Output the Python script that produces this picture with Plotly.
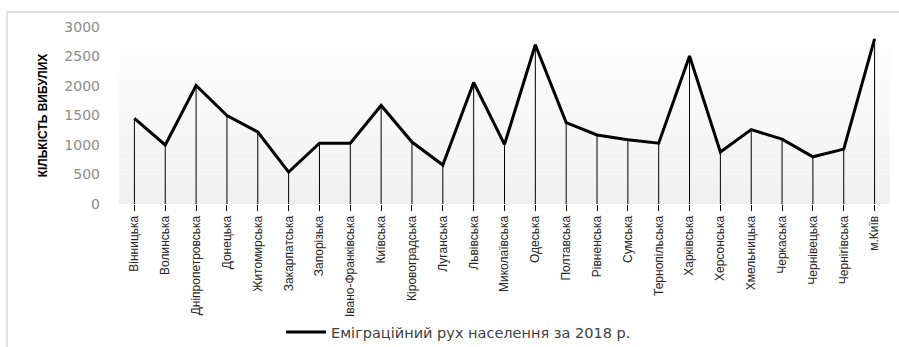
import plotly.graph_objects as go

# Регіони України
regions = [
    "Вінницька", "Волинська", "Дніпропетровська", "Донецька", "Житомирська",
    "Закарпатська", "Запорізька", "Івано-Франківська", "Київська", "Кіровоградська",
    "Луганська", "Львівська", "Миколаївська", "Одеська", "Полтавська",
    "Рівненська", "Сумська", "Тернопільська", "Харківська", "Херсонська",
    "Хмельницька", "Черкаська", "Чернівецька", "Чернігівська", "м.Київ",
]

# Кількість вибулих, 2018 р.
emigrants = [
    1450, 1000, 2010, 1500, 1220,
    540, 1030, 1030, 1670, 1050,
    660, 2060, 1010, 2700, 1380,
    1170, 1090, 1030, 2510, 880,
    1260, 1100, 800, 930, 2800,
]

y_ticks = [0, 500, 1000, 1500, 2000, 2500, 3000]
series_name = "Еміграційний рух населення за 2018 р."

W, H = 899, 347
L, R, T, B = 119, 9, 27, 143
plot_w = W - L - R
plot_h = H - T - B

fig = go.Figure()

fig.add_trace(go.Scatter(
    x=regions,
    y=emigrants,
    mode="lines",
    name=series_name,
    line=dict(color="black", width=3),
    error_y=dict(
        type="data", symmetric=False,
        array=[0] * len(emigrants), arrayminus=emigrants,
        color="black", thickness=1, width=0,
    ),
))

# Vertical gradient of the plot background: white at top, light grey at bottom
shapes = []
bands = 24
for i in range(bands):
    t = i / (bands - 1)
    g = round(255 - t * (255 - 240))
    shapes.append(dict(
        type="rect", xref="x domain", yref="y domain",
        x0=0, x1=1, y0=1 - (i + 1) / bands, y1=1 - i / bands,
        fillcolor=f"rgb({g},{g},{g})", line=dict(width=0), layer="below",
    ))

# Outer chart frame
shapes.append(dict(
    type="rect", xref="paper", yref="paper",
    x0=(7 - L) / plot_w, x1=(W + 20 - L) / plot_w,
    y0=-(H + 20 - T - plot_h) / plot_h, y1=(H - B - 12) / plot_h,
    line=dict(color="#d9d9d9", width=1.5), fillcolor="rgba(0,0,0,0)", layer="below",
))

fig.update_layout(
    width=W, height=H,
    margin=dict(l=L, r=R, t=T, b=B, pad=0, autoexpand=False),
    paper_bgcolor="white",
    plot_bgcolor="white",
    shapes=shapes,
    showlegend=True,
    legend=dict(
        orientation="h",
        xref="container", yref="container",
        x=281 / W, xanchor="left",
        y=1 - 332 / H, yanchor="middle",
        font=dict(family="DejaVu Sans", size=14.5, color="#404040"),
        bgcolor="rgba(0,0,0,0)",
        itemwidth=40,
    ),
    xaxis=dict(
        type="category",
        range=[-0.5, len(regions) - 0.5],
        tickangle=-90,
        ticks="outside", ticklen=6, tickcolor="black", tickwidth=1,
        showgrid=False, zeroline=False, showline=False,
        automargin=False,
        tickfont=dict(family="Liberation Sans", size=12, color="#262626"),
    ),
    yaxis=dict(
        range=[0, 3000],
        tickvals=y_ticks,
        showgrid=False, zeroline=False, showline=False,
        automargin=False,
        ticks="", ticklabelstandoff=18,
        tickfont=dict(family="DejaVu Sans", size=14, color="#8c8c8c"),
        title=dict(
            text="<b>КІЛЬКІСТЬ ВИБУЛИХ</b>",
            font=dict(family="Liberation Sans", size=12, color="black"),
            standoff=14,
        ),
    ),
)

fig.write_html("out.html")
